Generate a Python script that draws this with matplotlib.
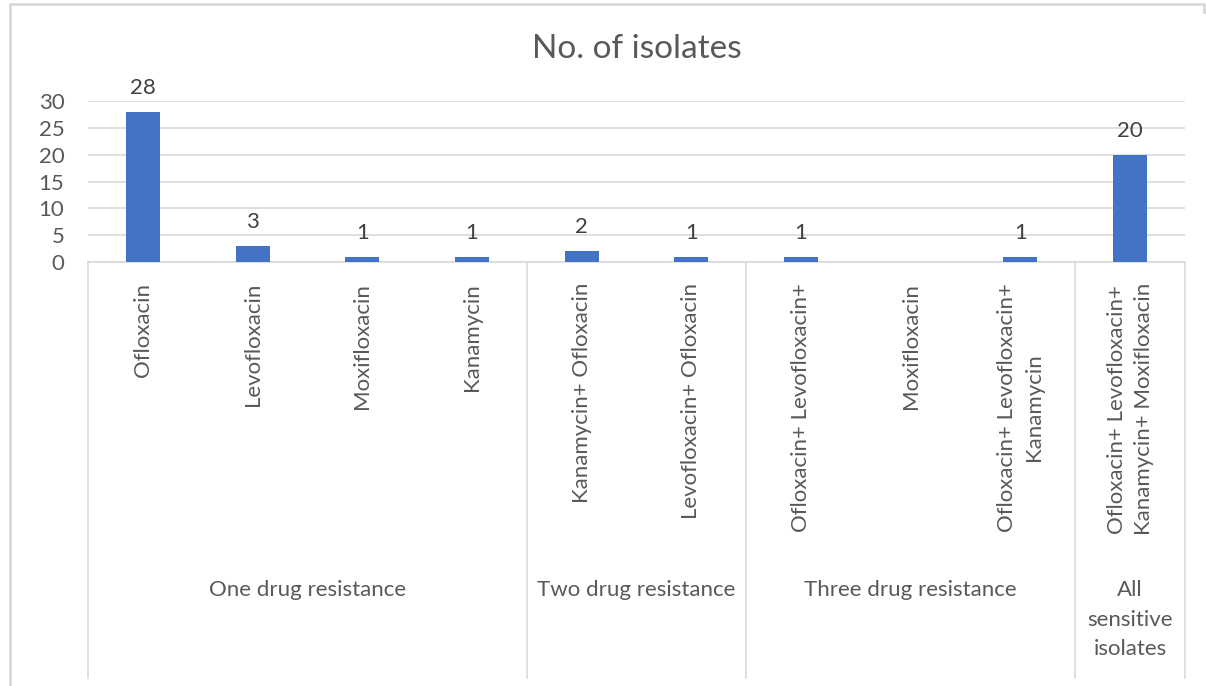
import numpy as np
import matplotlib.pyplot as plt
from matplotlib.lines import Line2D
from matplotlib.transforms import blended_transform_factory

plt.rcParams['font.family'] = ['Lato', 'DejaVu Sans']

# Data
drugs = ["Ofloxacin", "Levofloxacin", "Moxifloxacin", "Kanamycin",
         "Kanamycin+ Ofloxacin", "Levofloxacin+ Ofloxacin",
         "Ofloxacin+ Levofloxacin+", "Moxifloxacin",
         "Ofloxacin+ Levofloxacin+\nKanamycin",
         "Ofloxacin+ Levofloxacin+\nKanamycin+ Moxifloxacin"]
isolates = [28, 3, 1, 1, 2, 1, 1, np.nan, 1, 20]
groups = ["One drug resistance", "Two drug resistance",
          "Three drug resistance", "All\nsensitive\nisolates"]
group_sizes = [4, 2, 3, 1]

bar_color = "#4472C4"
text_color = "#595959"
grid_color = "#D9D9D9"

W, H = 1206, 686
fig = plt.figure(figsize=(W / 100, H / 100), dpi=100)
ax = fig.add_axes([88 / W, 1 - 262 / H, (1185 - 88) / W, 161 / H])

x = np.arange(len(drugs))
bars = ax.bar(x, isolates, width=0.31, color=bar_color, zorder=3)
for xi, v in zip(x, isolates):
    if not np.isnan(v):
        ax.annotate(f"{int(v)}", (xi, v), xytext=(0, 10), textcoords="offset points",
                    ha="center", va="bottom", fontsize=16, color="#404040")

ax.set_xlim(-0.5, len(drugs) - 0.5)
ax.set_ylim(0, 30)
ax.set_yticks(range(0, 31, 5))
ax.tick_params(axis="y", length=0, labelsize=16, labelcolor=text_color, pad=17)
ax.set_xticks([])
ax.grid(axis="y", color=grid_color, linewidth=1.2, zorder=0)
for s in ["left", "right", "top"]:
    ax.spines[s].set_visible(False)
ax.spines["bottom"].set_color(grid_color)
ax.spines["bottom"].set_linewidth(1.2)

ax.set_title("No. of isolates", fontsize=24, color=text_color, pad=31)

# Multi-level category axis below the plot
tr = blended_transform_factory(ax.transData, fig.transFigure)
for xi, name in zip(x, drugs):
    ax.text(xi, 1 - 283 / H, name, transform=tr, rotation=90, ha="center", va="top",
            multialignment="center", fontsize=16, color=text_color, linespacing=1.45)

edges = np.concatenate([[0], np.cumsum(group_sizes)]) - 0.5
for e in edges:
    fig.add_artist(Line2D([e, e], [1 - 262 / H, 1 - 678 / H], transform=tr,
                          color=grid_color, linewidth=1.2))
for g, a, b in zip(groups, edges[:-1], edges[1:]):
    ax.text((a + b) / 2, 1 - 580 / H, g, transform=tr, ha="center", va="top",
            fontsize=16, color=text_color, linespacing=1.6)

# Outer chart frame
fig.add_artist(Line2D([10 / W, 10 / W, 1204 / W, 1204 / W],
                      [0, 1 - 4 / H, 1 - 4 / H, 1 - 12 / H],
                      transform=fig.transFigure, color=grid_color, linewidth=2))

fig.savefig("out.png", dpi=100, facecolor="white")
